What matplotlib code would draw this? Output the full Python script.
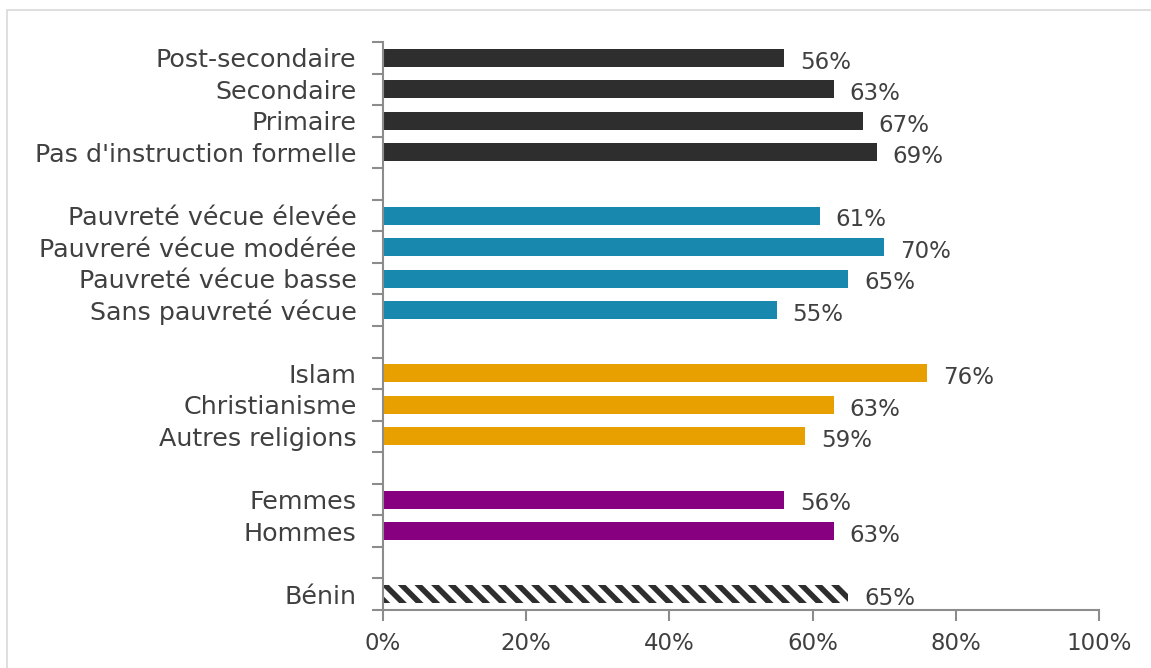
import matplotlib
matplotlib.use("Agg")
import matplotlib.pyplot as plt
from matplotlib.patches import Rectangle
import numpy as np

# Data
groups = [
    (["Post-secondaire", "Secondaire", "Primaire", "Pas d'instruction formelle"], [56, 63, 67, 69], "#2e2e2e"),
    (["Pauvreté vécue élevée", "Pauvreré vécue modérée", "Pauvreté vécue basse", "Sans pauvreté vécue"], [61, 70, 65, 55], "#1888ae"),
    (["Islam", "Christianisme", "Autres religions"], [76, 63, 59], "#e8a000"),
    (["Femmes", "Hommes"], [56, 63], "#870080"),
]
benin_label = "Bénin"
benin_value = 65
xticks = [0, 20, 40, 60, 80, 100]

plt.rcParams['font.family'] = ['DejaVu Sans']
plt.rcParams['hatch.linewidth'] = 4.0

fig = plt.figure(figsize=(11.51, 6.68), dpi=100)
fig.patches.append(Rectangle((7/1151, -0.1), 1.2, 1 - 10/668 + 0.1, transform=fig.transFigure,
                             fill=False, edgecolor="#d9d9d9", linewidth=1.2))
ax = fig.add_axes([383/1151, 1 - 610/668, (1099-383)/1151, (610-42)/668])

label_color = "#404040"
axis_color = "#8c8c8c"
bh = 0.57
vfs = 16.5

pos = 0
ypos, ylabels = [], []
for labels, values, color in groups:
    for lab, v in zip(labels, values):
        ax.barh(pos, v, height=bh, color=color, edgecolor="none")
        ax.text(v + 2.2, pos + 0.34, f"{v}%", va="baseline", ha="left", fontsize=vfs, color=label_color)
        ypos.append(pos); ylabels.append(lab)
        pos += 1
    pos += 1
ax.barh(pos, benin_value, height=bh, color="white", edgecolor="#2e2e2e", hatch="\\\\", linewidth=0)
ax.text(benin_value + 2.2, pos + 0.34, f"{benin_value}%", va="baseline", ha="left", fontsize=vfs, color=label_color)
ypos.append(pos); ylabels.append(benin_label)
nslots = pos + 1

ax.set_xlim(0, 100)
ax.set_ylim(nslots - 0.5, -0.5)
ax.set_xticks(xticks)
ax.set_xticklabels([f"{t}%" for t in xticks], fontsize=16.5, color=label_color)
ax.set_yticks(ypos)
ax.set_yticklabels(ylabels, fontsize=18.3, color=label_color)
ax.tick_params(axis="y", which="major", length=0, pad=19)
ax.set_yticks(np.arange(-0.5, nslots, 1.0), minor=True)
ax.tick_params(axis="y", which="minor", length=8, color=axis_color, width=1.5)
ax.tick_params(axis="x", length=8, color=axis_color, width=1.5, pad=8)
for s in ["top", "right"]:
    ax.spines[s].set_visible(False)
for s in ["left", "bottom"]:
    ax.spines[s].set_color(axis_color)
    ax.spines[s].set_linewidth(1.5)

fig.savefig("out.png", dpi=100)
